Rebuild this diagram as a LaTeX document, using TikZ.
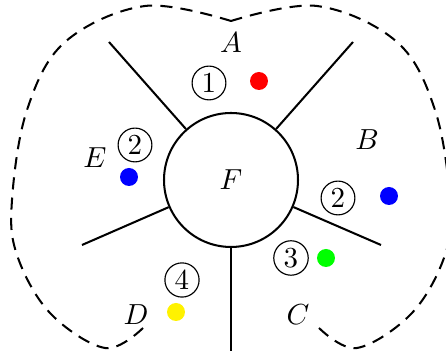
\documentclass[tikz,border=0pt]{standalone}
\begin{document}
\begin{tikzpicture}[x=0.3448pt,y=-0.3448pt,
  lw/.style={line width=0.7pt},
  outline/.style={line width=0.7pt,dash pattern=on 4.2pt off 2.8pt},
  numc/.style={circle,draw,line width=0.4pt,inner sep=1.2pt},
  dot/.style={circle,inner sep=0pt,minimum size=6.2pt},
  lab/.style={inner sep=0pt}]
\useasboundingbox (0,0) rectangle (446,351);
% outline
\draw[outline] plot[smooth,tension=0.6] coordinates {(143,328) (105,348) (50,313) (17,255) (12,200) (27,110) (65,42) (145,6) (231,21)};
\draw[outline] plot[smooth,tension=0.6] coordinates {(319,328) (357,348) (412,313) (445,255) (450,200) (435,110) (397,42) (317,6) (231,21)};
% centre
\node[circle,draw,lw,inner sep=0pt,minimum size=46.2pt] (F) at (231,180) {$F$};
\coordinate (ul) at (109,42);
\coordinate (ur) at (353,42);
\coordinate (ll) at (82,245);
\coordinate (lr) at (381,245);
\coordinate (bt) at (231,356);
\draw[lw] (F) -- (ul);
\draw[lw] (F) -- (ur);
\draw[lw] (F) -- (ll);
\draw[lw] (F) -- (lr);
\draw[lw] (F) -- (bt);
% labels
\node[lab] (A) at (231,43) {$A$};
\node[lab] (B) at (367,140) {$B$};
\node[lab] (C) at (298,315) {$C$};
\node[lab] (D) at (136,315) {$D$};
\node[lab] (E) at (95,158) {$E$};
% circled numbers
\node[numc] (n1) at (209,83) {1};
\node[numc] (n2a) at (135,145) {2};
\node[numc] (n2b) at (338,198) {2};
\node[numc] (n3) at (291,258) {3};
\node[numc] (n4) at (182,280) {4};
% dots
\node[dot,fill=red] (dA) at (259,81) {};
\node[dot,fill=blue] (dE) at (129,177) {};
\node[dot,fill=blue] (dB) at (389,196) {};
\node[dot,fill=green] (dC) at (326,258) {};
\node[dot,fill=yellow] (dD) at (176,312) {};
\end{tikzpicture}
\end{document}
